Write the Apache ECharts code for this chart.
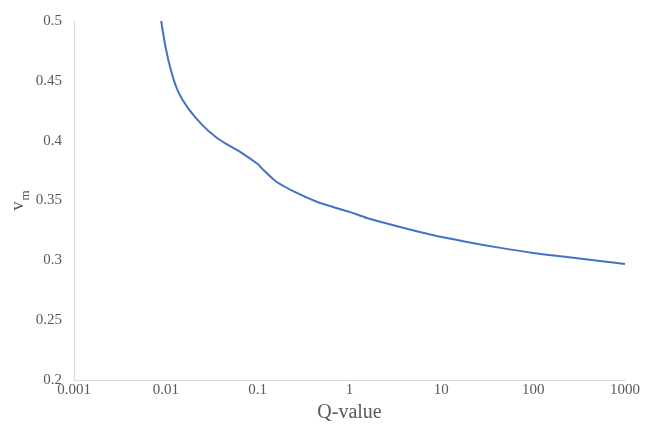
<!DOCTYPE html>
<html>
<head>
<meta charset="utf-8">
<script src="https://cdn.jsdelivr.net/npm/echarts@6/dist/echarts.min.js"></script>
<style>
  html, body { margin: 0; padding: 0; background: #ffffff; }
  #chart { width: 652px; height: 434px; }
</style>
</head>
<body>
<div id="chart"></div>
<script>
// Q-value (log scale) and the corresponding v_m values
const qValues = [0.0089, 0.01, 0.0115, 0.0137, 0.0175, 0.025, 0.035, 0.045, 0.065, 0.1, 0.115, 0.16, 0.27, 0.44, 0.65, 1, 1.55, 3.55, 8, 19, 44, 100, 234, 535, 1000];
const vmValues = [0.5, 0.477, 0.4574, 0.4405, 0.427, 0.413, 0.403, 0.3975, 0.3905, 0.3805, 0.3757, 0.3657, 0.3561, 0.349, 0.3448, 0.3405, 0.3354, 0.3279, 0.3212, 0.3154, 0.3104, 0.3062, 0.3028, 0.2995, 0.297];
const xTickLabels = ['0.001', '0.01', '0.1', '1', '10', '100', '1000'];
const yTickLabels = ['0.2', '0.25', '0.3', '0.35', '0.4', '0.45', '0.5'];

const seriesData = qValues.map((q, i) => [q, vmValues[i]]);
const serif = '"Liberation Serif", "Times New Roman", serif';
const labelColor = '#595959';

const chart = echarts.init(document.getElementById('chart'));
chart.setOption({
  animation: false,
  backgroundColor: '#ffffff',
  grid: { left: 74, right: 27, top: 21, bottom: 54, containLabel: false, outerBoundsMode: 'none' },
  xAxis: {
    type: 'log',
    logBase: 10,
    min: 0.001,
    max: 1000,
    name: 'Q-value',
    nameLocation: 'middle',
    nameGap: 20,
    nameTextStyle: { fontFamily: serif, fontSize: 20, color: labelColor },
    axisLine: { show: true, lineStyle: { color: '#d9d9d9', width: 1 } },
    axisTick: { show: false },
    splitLine: { show: false },
    axisLabel: {
      fontFamily: serif, fontSize: 15, color: labelColor, margin: 3,
      formatter: v => {
        const idx = Math.round(Math.log10(v)) + 3;
        return xTickLabels[idx] !== undefined ? xTickLabels[idx] : '';
      }
    }
  },
  yAxis: {
    type: 'value',
    min: 0.2,
    max: 0.5,
    interval: 0.05,
    name: '{v|v}{m|m}',
    nameLocation: 'middle',
    nameGap: 47,
    nameMoveOverlap: false,
    nameRotate: 90,
    nameTextStyle: {
      color: labelColor,
      rich: {
        v: { fontFamily: serif, fontSize: 18, color: labelColor, verticalAlign: 'bottom', lineHeight: 18 },
        m: { fontFamily: serif, fontSize: 13, color: labelColor, verticalAlign: 'bottom', lineHeight: 13, padding: [0, 0, -5, 1] }
      }
    },
    axisLine: { show: true, lineStyle: { color: '#d9d9d9', width: 1 } },
    axisTick: { show: false },
    splitLine: { show: false },
    axisLabel: {
      fontFamily: serif, fontSize: 15, color: labelColor, margin: 12,
      formatter: v => {
        const idx = Math.round((v - 0.2) / 0.05);
        return yTickLabels[idx] !== undefined ? yTickLabels[idx] : '';
      }
    }
  },
  series: [{
    type: 'line',
    data: seriesData,
    smooth: 0.3,
    showSymbol: false,
    lineStyle: { color: '#4472c4', width: 2 },
    clip: true
  }]
});
</script>
</body>
</html>
